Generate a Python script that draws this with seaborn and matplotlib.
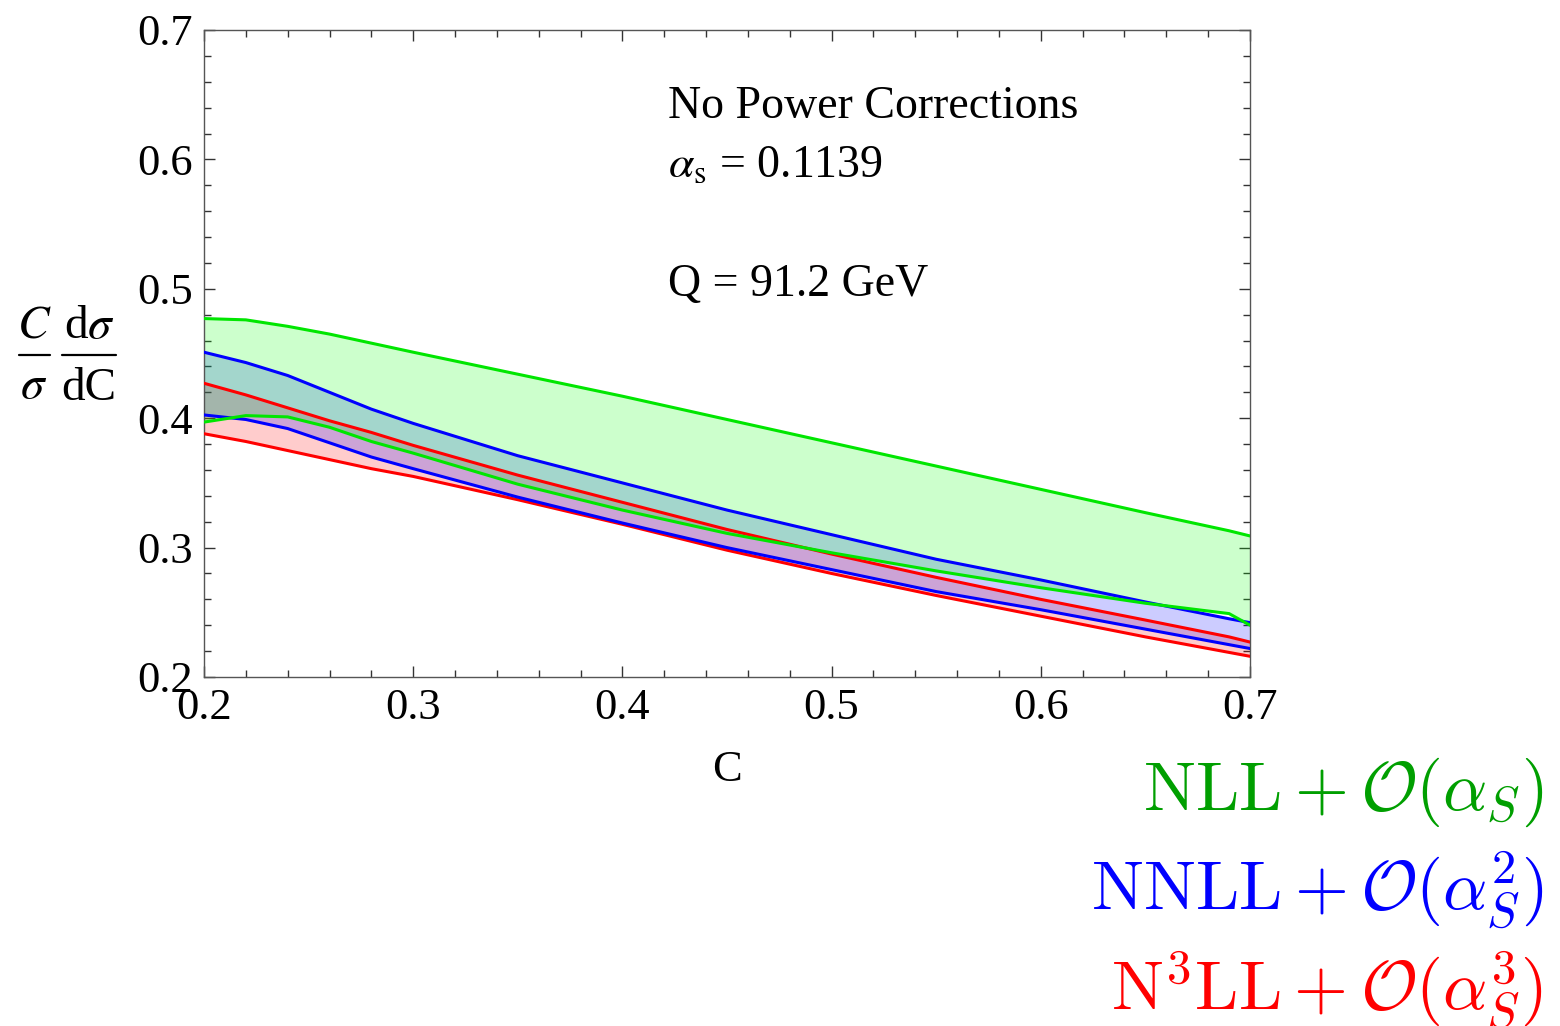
import numpy as np
import pandas as pd
import matplotlib
matplotlib.use('Agg')
import matplotlib.pyplot as plt
from matplotlib.lines import Line2D
import seaborn as sns

# ---- data ----
C = [0.20, 0.22, 0.24, 0.26, 0.28, 0.30, 0.35, 0.40, 0.45, 0.50, 0.55, 0.60, 0.65, 0.69, 0.70]
nll_hi = [0.477, 0.476, 0.471, 0.465, 0.458, 0.451, 0.434, 0.417, 0.399, 0.381, 0.363, 0.345, 0.327, 0.313, 0.309]
nll_lo = [0.397, 0.402, 0.401, 0.393, 0.382, 0.373, 0.349, 0.329, 0.311, 0.296, 0.282, 0.269, 0.257, 0.249, 0.240]
nnll_hi = [0.451, 0.443, 0.433, 0.420, 0.407, 0.396, 0.371, 0.350, 0.329, 0.310, 0.291, 0.275, 0.258, 0.245, 0.242]
nnll_lo = [0.4025, 0.399, 0.392, 0.381, 0.370, 0.361, 0.339, 0.319, 0.300, 0.283, 0.266, 0.252, 0.237, 0.225, 0.222]
n3ll_hi = [0.427, 0.418, 0.408, 0.398, 0.389, 0.379, 0.356, 0.335, 0.314, 0.295, 0.277, 0.260, 0.244, 0.231, 0.227]
n3ll_lo = [0.388, 0.382, 0.375, 0.368, 0.361, 0.355, 0.337, 0.318, 0.298, 0.280, 0.263, 0.247, 0.231, 0.219, 0.216]

x_ticks = [0.2, 0.3, 0.4, 0.5, 0.6, 0.7]
y_ticks = [0.2, 0.3, 0.4, 0.5, 0.6, 0.7]
legend_labels = [r'$\mathrm{NLL}+\mathcal{O}(\alpha_S)$',
                 r'$\mathrm{NNLL}+\mathcal{O}(\alpha_S^2)$',
                 r'$\mathrm{N}^3\mathrm{LL}+\mathcal{O}(\alpha_S^3)$']
info_lines = ['No Power Corrections', r'$\alpha_{\mathrm{s}}$ = 0.1139', 'Q = 91.2 GeV']

# ---- style ----
sns.set_style('ticks')
plt.rcParams['font.family'] = ['Liberation Serif', 'DejaVu Serif']
plt.rcParams['mathtext.fontset'] = 'stix'
plt.rcParams['text.color'] = 'black'
plt.rcParams['axes.labelcolor'] = 'black'
plt.rcParams['xtick.labelcolor'] = 'black'
plt.rcParams['ytick.labelcolor'] = 'black'

fig = plt.figure(figsize=(15.6, 10.26), dpi=100)
ax = fig.add_axes([204/1560, 1-677/1026, (1250-204)/1560, (677-30)/1026])

# draw order as in reference: red, blue, green (green on top)
bands = [
    (n3ll_lo, n3ll_hi, '#ff0000', '#ff0000'),
    (nnll_lo, nnll_hi, '#0000ff', '#0000ff'),
    (nll_lo, nll_hi, '#00ff00', '#00e600'),
]
for lo, hi, fcol, lcol in bands:
    ax.fill_between(C, lo, hi, color=fcol, alpha=0.2, lw=0, zorder=1)
for lo, hi, fcol, lcol in bands:
    df = pd.DataFrame({'C': C + C, 'v': lo + hi, 'k': ['lo'] * len(C) + ['hi'] * len(C)})
    sns.lineplot(data=df, x='C', y='v', units='k', estimator=None, color=lcol,
                 lw=2.2, ax=ax, legend=False, zorder=3)

ax.set_xlim(0.2, 0.7)
ax.set_ylim(0.2, 0.7)
ax.set_xticks(x_ticks)
ax.set_yticks(y_ticks)
ax.set_xticks(np.arange(0.2, 0.7001, 0.02), minor=True)
ax.set_yticks(np.arange(0.2, 0.7001, 0.02), minor=True)
ax.set_xticklabels([f'{v:.1f}' for v in x_ticks])
ax.set_yticklabels([f'{v:.1f}' for v in y_ticks])
ax.tick_params(which='both', direction='in', top=True, right=True, color='#333333', width=1)
ax.tick_params(which='major', length=8, labelsize=32)
ax.tick_params(which='minor', length=5)
ax.tick_params(axis='x', pad=8)
ax.tick_params(axis='y', pad=8)
for s in ax.spines.values():
    s.set_color('#555555')
    s.set_linewidth(1)
    s.set_visible(True)

ax.set_xlabel('C', fontsize=32)
ax.xaxis.set_label_coords(0.5, -(750-677)/647)
ax.set_ylabel('')

# y-axis label as a stacked fraction pair: C/sigma  dsigma/dC
W, H = 1560, 1026
def fx(px):
    return px / W
def fy(py):
    return 1 - py / H
fs_frac = 34
fig.text(fx(34), fy(338), '$C$', fontsize=fs_frac, ha='center', va='baseline')
fig.text(fx(34), fy(398), r'$\sigma$', fontsize=fs_frac, ha='center', va='baseline')
fig.text(fx(89), fy(338), r'd$\sigma$', fontsize=fs_frac, ha='center', va='baseline')
fig.text(fx(89), fy(400), 'dC', fontsize=fs_frac, ha='center', va='baseline')
fig.add_artist(Line2D([fx(19), fx(50)], [fy(355), fy(355)], color='black', lw=1.6))
fig.add_artist(Line2D([fx(62), fx(116)], [fy(355), fy(355)], color='black', lw=1.6))

xs = (668-204)/1046
for txt, yb in zip(info_lines, [118, 177, 296]):
    ax.text(xs, (677-yb)/647, txt, transform=ax.transAxes, fontsize=33,
            ha='left', va='baseline')

leg_colors = ['#009f00', '#0000ff', '#ff0000']
for lab, col, yb in zip(legend_labels, leg_colors, [810, 910, 1010]):
    fig.text(fx(1543), fy(yb), lab, color=col, fontsize=50, ha='right',
             va='baseline', math_fontfamily='cm')

fig.savefig('out.png', dpi=100)
